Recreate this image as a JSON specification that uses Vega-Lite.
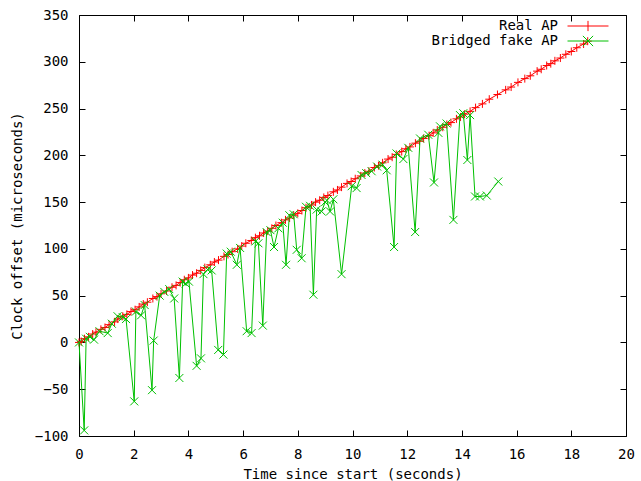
{
  "$schema": "https://vega.github.io/schema/vega-lite/v6.json",
  "width": 547,
  "height": 421,
  "autosize": "none",
  "padding": {"left": 79, "top": 15, "right": 15, "bottom": 45},
  "background": "white",
  "config": {
    "view": {"stroke": "black", "strokeWidth": 1},
    "font": "DejaVu Sans Mono",
    "axis": {
      "labelFont": "DejaVu Sans Mono",
      "labelFontSize": 14,
      "labelColor": "black",
      "titleFont": "DejaVu Sans Mono",
      "titleFontSize": 14,
      "titleFontWeight": "normal",
      "titleColor": "black",
      "tickColor": "black",
      "tickSize": -6,
      "domain": false,
      "grid": false
    }
  },
  "datasets": {
    "real": [
      {"t": 0, "v": 0}, {"t": 0.08, "v": 1}, {"t": 0.2, "v": 4}, {"t": 0.35, "v": 6}, {"t": 0.5, "v": 9}, {"t": 0.62, "v": 11}, {"t": 0.8, "v": 14}, {"t": 0.95, "v": 16}, {"t": 1.1, "v": 19}, {"t": 1.3, "v": 22},
      {"t": 1.42, "v": 25}, {"t": 1.6, "v": 28}, {"t": 1.75, "v": 30}, {"t": 1.9, "v": 33}, {"t": 2.05, "v": 35}, {"t": 2.2, "v": 38}, {"t": 2.35, "v": 41}, {"t": 2.5, "v": 43}, {"t": 2.7, "v": 47}, {"t": 2.85, "v": 49},
      {"t": 3.0, "v": 52}, {"t": 3.2, "v": 55}, {"t": 3.4, "v": 59}, {"t": 3.55, "v": 61}, {"t": 3.7, "v": 64}, {"t": 3.85, "v": 67}, {"t": 4.0, "v": 69}, {"t": 4.15, "v": 72}, {"t": 4.3, "v": 74}, {"t": 4.45, "v": 77},
      {"t": 4.6, "v": 80}, {"t": 4.8, "v": 83}, {"t": 4.95, "v": 86}, {"t": 5.1, "v": 88}, {"t": 5.3, "v": 92}, {"t": 5.45, "v": 94}, {"t": 5.6, "v": 97}, {"t": 5.8, "v": 100}, {"t": 5.95, "v": 103}, {"t": 6.1, "v": 106},
      {"t": 6.3, "v": 109}, {"t": 6.45, "v": 112}, {"t": 6.6, "v": 114}, {"t": 6.75, "v": 117}, {"t": 6.9, "v": 119}, {"t": 7.05, "v": 122}, {"t": 7.2, "v": 125}, {"t": 7.4, "v": 128}, {"t": 7.55, "v": 131}, {"t": 7.7, "v": 133},
      {"t": 7.85, "v": 136}, {"t": 8.0, "v": 138}, {"t": 8.15, "v": 141}, {"t": 8.3, "v": 144}, {"t": 8.5, "v": 147}, {"t": 8.65, "v": 150}, {"t": 8.8, "v": 152}, {"t": 8.95, "v": 155}, {"t": 9.1, "v": 157}, {"t": 9.3, "v": 161},
      {"t": 9.45, "v": 163}, {"t": 9.6, "v": 166}, {"t": 9.8, "v": 170}, {"t": 9.95, "v": 172}, {"t": 10.1, "v": 175}, {"t": 10.3, "v": 178}, {"t": 10.45, "v": 181}, {"t": 10.6, "v": 183}, {"t": 10.8, "v": 187}, {"t": 10.95, "v": 189},
      {"t": 11.1, "v": 192}, {"t": 11.3, "v": 196}, {"t": 11.45, "v": 198}, {"t": 11.6, "v": 201}, {"t": 11.8, "v": 204}, {"t": 11.95, "v": 207}, {"t": 12.1, "v": 209}, {"t": 12.3, "v": 213}, {"t": 12.45, "v": 215}, {"t": 12.6, "v": 218},
      {"t": 12.8, "v": 221}, {"t": 12.95, "v": 224}, {"t": 13.1, "v": 227}, {"t": 13.3, "v": 230}, {"t": 13.45, "v": 233}, {"t": 13.6, "v": 235}, {"t": 13.8, "v": 239}, {"t": 13.95, "v": 241}, {"t": 14.1, "v": 244}, {"t": 14.3, "v": 247},
      {"t": 14.5, "v": 251}, {"t": 14.75, "v": 255}, {"t": 15.0, "v": 260}, {"t": 15.3, "v": 265}, {"t": 15.6, "v": 270}, {"t": 15.8, "v": 273}, {"t": 16.05, "v": 278}, {"t": 16.3, "v": 282}, {"t": 16.5, "v": 285}, {"t": 16.75, "v": 290},
      {"t": 16.9, "v": 292}, {"t": 17.1, "v": 296}, {"t": 17.25, "v": 298}, {"t": 17.4, "v": 301}, {"t": 17.6, "v": 304}, {"t": 17.8, "v": 308}, {"t": 18.0, "v": 311}, {"t": 18.2, "v": 315}, {"t": 18.45, "v": 319}, {"t": 18.6, "v": 322}
    ],
    "fake": [
      {"t": 0, "v": 0}, {"t": 0.19, "v": -94}, {"t": 0.26, "v": 4}, {"t": 0.4, "v": 6}, {"t": 0.55, "v": 3}, {"t": 0.75, "v": 12}, {"t": 1.05, "v": 10}, {"t": 1.2, "v": 20}, {"t": 1.41, "v": 28}, {"t": 1.6, "v": 27},
      {"t": 1.72, "v": 25}, {"t": 2.02, "v": -63}, {"t": 2.08, "v": 33}, {"t": 2.27, "v": 29}, {"t": 2.4, "v": 40}, {"t": 2.67, "v": -51}, {"t": 2.73, "v": 2}, {"t": 2.95, "v": 50}, {"t": 3.12, "v": 54}, {"t": 3.3, "v": 57},
      {"t": 3.48, "v": 47}, {"t": 3.67, "v": -38}, {"t": 3.79, "v": 65}, {"t": 3.9, "v": 63}, {"t": 4.02, "v": 65}, {"t": 4.3, "v": -25}, {"t": 4.46, "v": -17}, {"t": 4.55, "v": 73}, {"t": 4.7, "v": 78}, {"t": 4.85, "v": 77},
      {"t": 5.09, "v": -8}, {"t": 5.28, "v": -13}, {"t": 5.4, "v": 95}, {"t": 5.55, "v": 97}, {"t": 5.77, "v": 83}, {"t": 5.89, "v": 101}, {"t": 6.13, "v": 12}, {"t": 6.31, "v": 10}, {"t": 6.45, "v": 108}, {"t": 6.56, "v": 106},
      {"t": 6.72, "v": 18}, {"t": 6.86, "v": 118}, {"t": 7.0, "v": 120}, {"t": 7.13, "v": 102}, {"t": 7.29, "v": 122}, {"t": 7.45, "v": 128}, {"t": 7.57, "v": 83}, {"t": 7.69, "v": 136}, {"t": 7.85, "v": 137}, {"t": 7.96, "v": 99},
      {"t": 8.14, "v": 90}, {"t": 8.3, "v": 145}, {"t": 8.45, "v": 146}, {"t": 8.57, "v": 51}, {"t": 8.69, "v": 142}, {"t": 8.87, "v": 140}, {"t": 9.0, "v": 150}, {"t": 9.06, "v": 152}, {"t": 9.18, "v": 140}, {"t": 9.3, "v": 153},
      {"t": 9.6, "v": 73}, {"t": 9.97, "v": 167}, {"t": 10.15, "v": 165}, {"t": 10.33, "v": 179}, {"t": 10.5, "v": 181}, {"t": 10.7, "v": 183}, {"t": 10.9, "v": 188}, {"t": 11.1, "v": 190}, {"t": 11.25, "v": 184}, {"t": 11.52, "v": 102},
      {"t": 11.61, "v": 202}, {"t": 11.86, "v": 196}, {"t": 12.04, "v": 208}, {"t": 12.29, "v": 118}, {"t": 12.47, "v": 218}, {"t": 12.77, "v": 222}, {"t": 12.98, "v": 171}, {"t": 13.14, "v": 224}, {"t": 13.2, "v": 231}, {"t": 13.44, "v": 234},
      {"t": 13.69, "v": 131}, {"t": 13.93, "v": 243}, {"t": 14.05, "v": 245}, {"t": 14.2, "v": 195}, {"t": 14.3, "v": 243}, {"t": 14.48, "v": 156}, {"t": 14.66, "v": 156}, {"t": 14.91, "v": 157}, {"t": 15.33, "v": 172}
    ]
  },
  "layer": [
    {
      "data": {"name": "real"},
      "transform": [{"calculate": "'Real AP'", "as": "s"}],
      "layer": [
        {
          "mark": {"type": "line", "strokeWidth": 1},
          "encoding": {
            "x": {"field": "t", "type": "quantitative", "scale": {"domain": [0, 20], "nice": false, "zero": false},
              "axis": {"orient": "bottom", "values": [0,2,4,6,8,10,12,14,16,18,20], "title": "Time since start (seconds)", "labelPadding": 17, "titlePadding": 6, "labelFlush": false}},
            "y": {"field": "v", "type": "quantitative", "scale": {"domain": [-100, 350], "nice": false, "zero": false},
              "axis": {"orient": "left", "values": [-100,-50,0,50,100,150,200,250,300,350], "title": "Clock offset (microseconds)", "labelPadding": 17, "titlePadding": 10, "labelFlush": false}},
            "color": {"field": "s", "type": "nominal",
              "scale": {"domain": ["Real AP", "Bridged fake AP"], "range": ["#ff0000", "#00c000"]},
              "legend": {
                "orient": "none", "legendX": 502, "legendY": 4, "title": null, "padding": 0,
                "labelAlign": "right", "labelOffset": -37, "labelFont": "DejaVu Sans Mono", "labelFontSize": 14, "labelColor": "black",
                "symbolSize": 105, "symbolStrokeWidth": 1, "rowPadding": -2, "symbolType": "M-4,0L4,0",
                "encode": {"symbols": {"update": {"shape": {"signal": "datum.value === 'Real AP' ? 'M-4,0L4,0M0,-1L0,1' : 'M-4,0L4,0M-1,-1L1,1M-1,1L1,-1'"}, "fill": {"value": "transparent"}}}}
              }
            }
          }
        },
        {
          "mark": {"type": "point", "filled": false, "size": 64, "strokeWidth": 1, "opacity": 1, "shape": "M-1,0L1,0M0,-1L0,1"},
          "encoding": {
            "x": {"field": "t", "type": "quantitative", "axis": {"orient": "top", "values": [0,2,4,6,8,10,12,14,16,18,20], "labels": false, "title": null}},
            "y": {"field": "v", "type": "quantitative", "axis": {"orient": "right", "values": [-100,-50,0,50,100,150,200,250,300,350], "labels": false, "title": null}},
            "color": {"field": "s", "type": "nominal"}
          }
        }
      ],
      "resolve": {"axis": {"x": "independent", "y": "independent"}}
    },
    {
      "data": {"name": "fake"},
      "transform": [{"calculate": "'Bridged fake AP'", "as": "s"}],
      "layer": [
        {
          "mark": {"type": "line", "strokeWidth": 1},
          "encoding": {
            "x": {"field": "t", "type": "quantitative", "axis": null},
            "y": {"field": "v", "type": "quantitative", "axis": null},
            "color": {"field": "s", "type": "nominal"}
          }
        },
        {
          "mark": {"type": "point", "filled": false, "size": 64, "strokeWidth": 1, "opacity": 1, "shape": "M-1,-1L1,1M-1,1L1,-1"},
          "encoding": {
            "x": {"field": "t", "type": "quantitative", "axis": null},
            "y": {"field": "v", "type": "quantitative", "axis": null},
            "color": {"field": "s", "type": "nominal"}
          }
        }
      ]
    }
  ]
}
